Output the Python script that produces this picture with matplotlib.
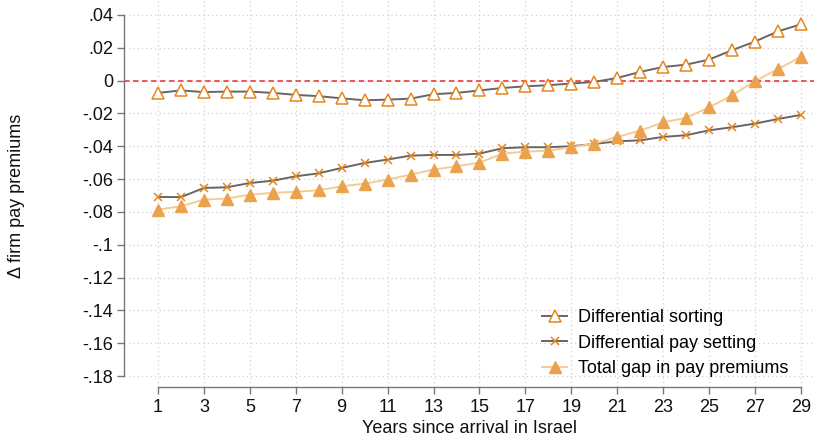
import matplotlib
matplotlib.use("Agg")
import matplotlib.pyplot as plt

plt.rcParams['font.family'] = ['Liberation Sans', 'DejaVu Sans']

years = list(range(1, 30))
sorting = [-0.0075, -0.006, -0.007, -0.0067, -0.0067, -0.0075, -0.0087, -0.0095, -0.0108, -0.012,
           -0.0116, -0.011, -0.0083, -0.0075, -0.006, -0.0045, -0.0035, -0.0028, -0.0018, -0.0008,
           0.0016, 0.0053, 0.0083, 0.0097, 0.0128, 0.0185, 0.0238, 0.030, 0.0343]
pay_setting = [-0.0709, -0.071, -0.0654, -0.065, -0.0624, -0.061, -0.0583, -0.0565, -0.0532, -0.0502,
               -0.0481, -0.0457, -0.0453, -0.0453, -0.0445, -0.0412, -0.0406, -0.0406, -0.040, -0.0386,
               -0.037, -0.0364, -0.0343, -0.0333, -0.0303, -0.0284, -0.0262, -0.0234, -0.0209]
total_gap = [-0.0786, -0.0766, -0.0725, -0.0719, -0.0695, -0.0684, -0.0678, -0.0668, -0.0644, -0.0628,
             -0.0603, -0.0573, -0.0542, -0.0522, -0.050, -0.0445, -0.0433, -0.0427, -0.0406, -0.0384,
             -0.0343, -0.0305, -0.0254, -0.0227, -0.0163, -0.009, -0.0004, 0.0071, 0.0144]

xticks = list(range(1, 30, 2))
yticks = [0.04, 0.02, 0, -0.02, -0.04, -0.06, -0.08, -0.1, -0.12, -0.14, -0.16, -0.18]
ytick_labels = ['.04', '.02', '0', '-.02', '-.04', '-.06', '-.08', '-.1', '-.12', '-.14', '-.16', '-.18']

labels = ['Differential sorting', 'Differential pay setting', 'Total gap in pay premiums']

gray = '#666666'
orange = '#E8861C'
light_orange = '#F7CB90'
fs = 13

fig = plt.figure(figsize=(8.14, 4.38), dpi=100)
ax = fig.add_axes([124 / 814, (438 - 386.7) / 438, 1 - 124 / 814, 386.7 / 438])

ax.set_xlim(-0.48, 29.57)
ax.set_ylim(-0.1865, 0.0491)

ax.set_xticks(xticks)
ax.set_yticks(yticks)
ax.set_yticklabels(ytick_labels)
ax.grid(True, color='#d0d0d0', linestyle=(0, (1, 2.5)), linewidth=0.9)
ax.set_axisbelow(True)

ax.axhline(0, color='#F04848', linestyle=(0, (3, 2)), linewidth=1.3, zorder=2)

ax.plot(years, sorting, color=gray, linewidth=1.4, marker='^', markersize=8,
        markerfacecolor='white', markeredgecolor=orange, markeredgewidth=1.1, label=labels[0], zorder=3)
ax.plot(years, pay_setting, color=gray, linewidth=1.4, marker='x', markersize=5.5,
        markeredgecolor=orange, markeredgewidth=1.1, label=labels[1], zorder=3)
ax.plot(years, total_gap, color=light_orange, linewidth=1.4, marker='^', markersize=8.5,
        markerfacecolor='#EBA24F', markeredgecolor='#EBA24F', label=labels[2], zorder=4)

for s in ['top', 'right']:
    ax.spines[s].set_visible(False)
ax.spines['left'].set_bounds(-0.18, 0.04)
ax.spines['bottom'].set_bounds(1, 29)
for s in ['left', 'bottom']:
    ax.spines[s].set_color('#777777')
    ax.spines[s].set_linewidth(1.0)

ax.tick_params(axis='both', colors='#777777', labelcolor='#111111', labelsize=fs, length=5, width=1.0)
ax.tick_params(axis='y', pad=3)
ax.tick_params(axis='x', pad=4)

ax.set_xlabel('Years since arrival in Israel', fontsize=fs, labelpad=3, color='#111111')
fig.text(17 / 814, 1 - 196 / 438, 'Δ firm pay premiums', rotation=90, ha='center', va='center',
         fontsize=fs, color='#111111')

leg = ax.legend(loc='lower left', frameon=False, fontsize=fs,
                handlelength=1.4, handletextpad=0.6, labelspacing=0.47, borderaxespad=0, borderpad=0)
leg.set_bbox_to_anchor((542 / 814, 1 - 377 / 438), transform=fig.transFigure)

fig.savefig('out.png', dpi=100)
